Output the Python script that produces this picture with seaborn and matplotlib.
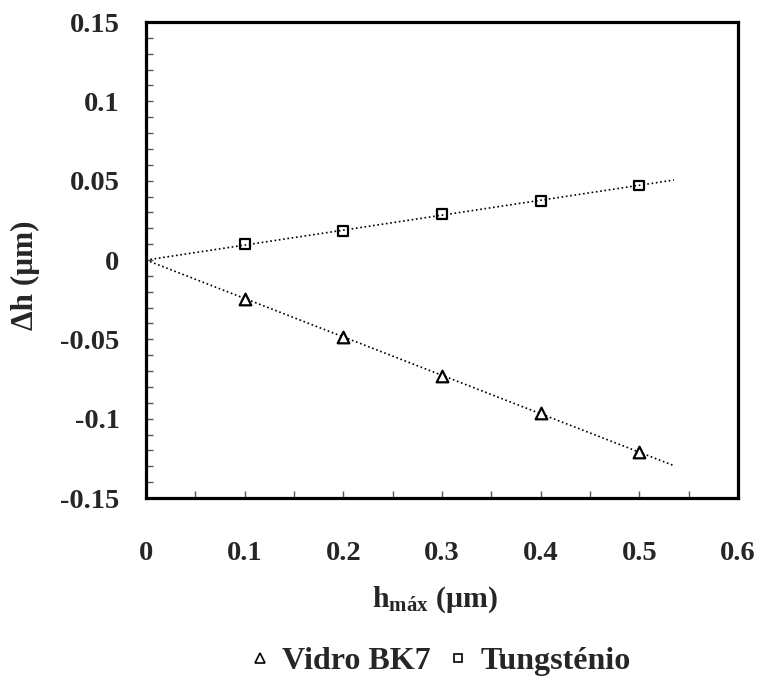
import numpy as np
import pandas as pd
import matplotlib
matplotlib.use("Agg")
import matplotlib.pyplot as plt
from matplotlib.ticker import MultipleLocator, FuncFormatter
from matplotlib.lines import Line2D
import seaborn as sns

# Indentation depth and the deviation measured for two materials
h_max = [0.1, 0.2, 0.3, 0.4, 0.5]
dh_vidro = [-0.0246, -0.0487, -0.0729, -0.0966, -0.1210]
dh_tungstenio = [0.0101, 0.0183, 0.0290, 0.0374, 0.0470]
series_names = ["Vidro BK7", "Tungsténio"]
x_ticks = [0, 0.1, 0.2, 0.3, 0.4, 0.5, 0.6]
y_ticks = [-0.15, -0.1, -0.05, 0, 0.05, 0.1, 0.15]
trend_end = 0.535

sns.set_theme(style="white")
plt.rcParams["font.family"] = ["Liberation Serif", "DejaVu Serif"]
plt.rcParams["font.weight"] = "bold"
plt.rcParams["mathtext.fontset"] = "custom"
plt.rcParams["mathtext.rm"] = "Liberation Serif:bold"
plt.rcParams["mathtext.bf"] = "Liberation Serif:bold"
plt.rcParams["mathtext.it"] = "Liberation Serif:bold"

df = pd.DataFrame({
    "h": h_max * 2,
    "dh": dh_vidro + dh_tungstenio,
    "material": [series_names[0]] * len(h_max) + [series_names[1]] * len(h_max),
})

fig = plt.figure(figsize=(7.58, 6.8), dpi=100)
ax = fig.add_axes([0.1926, 0.2676, 0.7810, 0.7000])

# Linear trendlines forced through the origin
xa = np.array(h_max)
for vals in (dh_vidro, dh_tungstenio):
    ya = np.array(vals)
    slope = np.sum(xa * ya) / np.sum(xa * xa)
    xs = np.array([0.0, trend_end])
    sns.lineplot(x=xs, y=slope * xs, ax=ax, color="black", lw=1.2,
                 linestyle=(0, (1, 1.6)), zorder=2, legend=False)

sub_v = df[df.material == series_names[0]]
sub_t = df[df.material == series_names[1]]
sns.scatterplot(data=sub_t, x="h", y="dh", marker="s", s=50,
                facecolor="none", edgecolor="black", linewidth=1.6,
                ax=ax, zorder=3, legend=False)
sns.scatterplot(data=sub_v, x="h", y="dh", marker="^", s=70,
                facecolor="white", edgecolor="black", linewidth=1.6,
                ax=ax, zorder=3, legend=False)

ax.set_xlim(0, 0.6)
ax.set_ylim(-0.15, 0.15)
ax.set_xticks(x_ticks)
ax.set_yticks(y_ticks)
fmt = FuncFormatter(lambda v, p: "0" if abs(v) < 1e-9 else f"{v:g}")
ax.xaxis.set_major_formatter(fmt)
ax.yaxis.set_major_formatter(fmt)
ax.xaxis.set_minor_locator(MultipleLocator(0.05))
ax.yaxis.set_minor_locator(MultipleLocator(0.01))
ax.tick_params(axis="both", which="both", direction="in", length=5,
               width=1.0, color="#555555", left=True, bottom=True,
               top=False, right=False)
ax.tick_params(axis="y", which="major", pad=19, labelsize=20.5)
ax.tick_params(axis="x", which="major", pad=31, labelsize=20.5)
for lab in ax.get_xticklabels() + ax.get_yticklabels():
    lab.set_fontweight("bold")

for sp in ax.spines.values():
    sp.set_visible(True)
    sp.set_color("black")
    sp.set_linewidth(2.3)

ax.set_ylabel("Δh (μm)", fontsize=22.5, fontweight="bold", va="center")
ax.yaxis.set_label_coords(-0.204, 0.468)
ax.set_xlabel(r"h$_{\mathbf{máx}}$ (μm)", fontsize=21.5, fontweight="bold",
              va="center")
ax.xaxis.set_label_coords(0.488, -0.214)

handles = [
    Line2D([], [], marker="^", ls="none", markersize=6.5, mfc="white",
           mec="black", mew=1.2),
    Line2D([], [], marker="s", ls="none", markersize=5.5, mfc="white",
           mec="black", mew=1.2),
]
fig.legend(handles, series_names, loc="center", bbox_to_anchor=(0.580, 0.027),
           ncol=2, frameon=False, prop={"size": 23, "weight": "bold"},
           handlelength=0.7, handletextpad=0.35, columnspacing=0.5)

fig.savefig("out.png", dpi=100)
